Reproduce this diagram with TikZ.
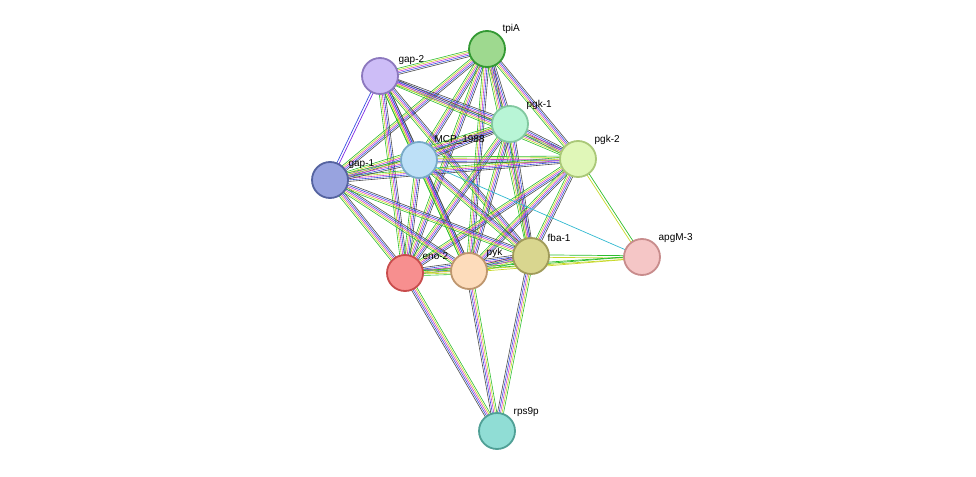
\documentclass[tikz,border=0pt]{standalone}
\usepackage{fontspec}
\setmainfont{Liberation Sans}
\usetikzlibrary{calc}
\definecolor{cgreen}{HTML}{2DBE2D}
\definecolor{cyell}{HTML}{C8D82A}
\definecolor{cmag}{HTML}{D040D0}
\definecolor{cblue}{HTML}{3850E0}
\definecolor{ccyan}{HTML}{30B8D0}
\newcommand{\stredge}[2]{%
  \foreach \c/\o in {cgreen/-3,cyell/-1.5,cmag/0,cblue/1.5,black!70/3}
    \draw[\c,line width=0.6pt] ($(#1)!\o pt!90:(#2)$) -- ($(#2)!\o pt!-90:(#1)$);}
\newcommand{\weakedge}[2]{%
  \foreach \c/\o in {cgreen/-1.2,cyell/1.2}
    \draw[\c,line width=0.7pt] ($(#1)!\o pt!90:(#2)$) -- ($(#2)!\o pt!-90:(#1)$);}
\begin{document}
\begin{tikzpicture}[x=1pt,y=-1pt,
    prot/.style={circle,minimum size=36pt,inner sep=0pt,line width=1.8pt},
    every label/.style={font=\fontsize{10}{11}\selectfont,inner sep=2pt}]
  \useasboundingbox (0,0) rectangle (976,476);
  \coordinate (tpiA) at (487,49);
  \coordinate (gap2) at (380,76);
  \coordinate (pgk1) at (510,124);
  \coordinate (pgk2) at (578,159);
  \coordinate (MCP) at (419,160);
  \coordinate (gap1) at (330,180);
  \coordinate (eno2) at (405,273);
  \coordinate (pyk) at (469,271);
  \coordinate (fba1) at (531,256);
  \coordinate (apgM3) at (642,257);
  \coordinate (rps9p) at (497,431);
  % edges
  \foreach \a/\b in {tpiA/gap2,tpiA/pgk1,tpiA/pgk2,tpiA/MCP,tpiA/gap1,tpiA/eno2,tpiA/pyk,tpiA/fba1,
      gap2/pgk1,gap2/pgk2,gap2/MCP,gap2/eno2,gap2/pyk,gap2/fba1,
      pgk1/pgk2,pgk1/MCP,pgk1/gap1,pgk1/eno2,pgk1/pyk,pgk1/fba1,
      pgk2/MCP,pgk2/gap1,pgk2/eno2,pgk2/pyk,pgk2/fba1,
      MCP/gap1,MCP/eno2,MCP/pyk,MCP/fba1,
      gap1/eno2,gap1/pyk,gap1/fba1,
      eno2/pyk,eno2/fba1,pyk/fba1,
      rps9p/eno2,rps9p/pyk,rps9p/fba1}
    {\stredge{\a}{\b}}
  \foreach \a/\b in {apgM3/pgk2,apgM3/fba1,apgM3/pyk,apgM3/eno2}
    {\weakedge{\a}{\b}}
  \draw[cblue,line width=0.7pt] ($(gap1)!1.2pt!90:(gap2)$) -- ($(gap2)!1.2pt!-90:(gap1)$);
  \draw[cmag!60!blue,line width=0.7pt] ($(gap1)!-1.2pt!90:(gap2)$) -- ($(gap2)!-1.2pt!-90:(gap1)$);
  \draw[ccyan,line width=0.7pt] (MCP) -- (apgM3);
  % nodes
  \node (tpiA-n) [prot,draw=green!50!black!80,fill={rgb,255:red,158;green,217;blue,143},label={[anchor=south west]45:tpiA}] at (tpiA) {};
  \node (gap2-n) [prot,draw={rgb,255:red,140;green,120;blue,190},fill={rgb,255:red,205;green,189;blue,247},label={[anchor=south west]30:gap-2}] at (gap2) {};
  \node (pgk1-n) [prot,draw={rgb,255:red,130;green,200;blue,160},fill={rgb,255:red,184;green,245;blue,214},label={[anchor=south west]40:pgk-1}] at (pgk1) {};
  \node (pgk2-n) [prot,draw={rgb,255:red,170;green,200;blue,120},fill={rgb,255:red,224;green,247;blue,184},label={[anchor=south west]40:pgk-2}] at (pgk2) {};
  \node (MCP-n) [prot,draw={rgb,255:red,120;green,170;blue,200},fill={rgb,255:red,189;green,224;blue,247},label={[anchor=south west]45:MCP\_1988}] at (MCP) {};
  \node (gap1-n) [prot,draw={rgb,255:red,85;green,99;blue,160},fill={rgb,255:red,152;green,163;blue,223},label={[anchor=south west]30:gap-1}] at (gap1) {};
  \node (eno2-n) [prot,draw={rgb,255:red,200;green,76;blue,76},fill={rgb,255:red,247;green,143;blue,143},label={[anchor=south west]35:eno-2}] at (eno2) {};
  \node (pyk-n) [prot,draw={rgb,255:red,190;green,150;blue,110},fill={rgb,255:red,253;green,220;blue,187},label={[anchor=south west]35:pyk}] at (pyk) {};
  \node (fba1-n) [prot,draw={rgb,255:red,160;green,155;blue,90},fill={rgb,255:red,217;green,214;blue,143},label={[anchor=south west]40:fba-1}] at (fba1) {};
  \node (apgM3-n) [prot,draw={rgb,255:red,200;green,140;blue,140},fill={rgb,255:red,245;green,198;blue,198},label={[anchor=south west]40:apgM-3}] at (apgM3) {};
  \node (rps9p-n) [prot,draw={rgb,255:red,80;green,160;blue,150},fill={rgb,255:red,144;green,221;blue,213},label={[anchor=south west]40:rps9p}] at (rps9p) {};
\end{tikzpicture}
\end{document}
